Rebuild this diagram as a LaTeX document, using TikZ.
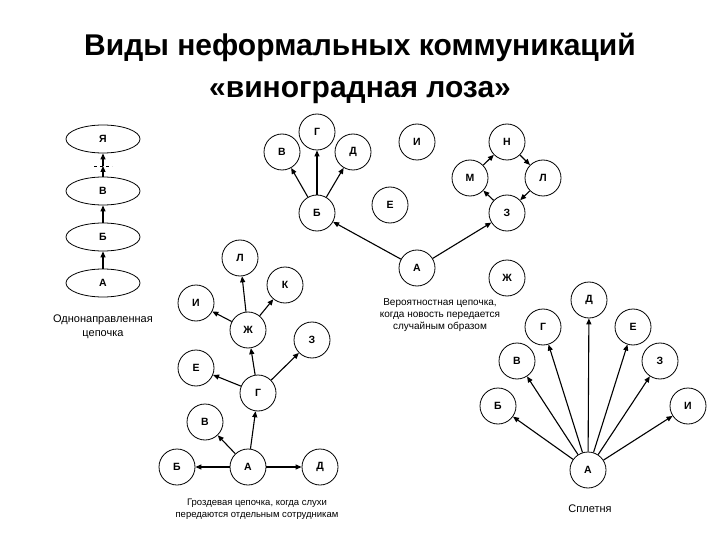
\documentclass[tikz,border=0pt]{standalone}
\usepackage{fontspec}
\setmainfont{Liberation Sans}
\usetikzlibrary{shapes.geometric,arrows.meta,calc}

\tikzset{
    krug/.style={circle,draw,line width=0.8pt,minimum size=36pt,inner sep=0pt,
        font=\fontsize{10.5}{12}\selectfont\bfseries},
    oval/.style={ellipse,draw,line width=0.8pt,minimum width=74pt,minimum height=28pt,
        inner sep=0pt,font=\fontsize{10.5}{12}\selectfont\bfseries},
    strel/.style={-{Triangle[length=6pt,width=5pt]},line width=1.1pt},
    podpis/.style={align=center,font=\fontsize{9.5}{12}\selectfont},
    zagolovok/.style={font=\fontsize{30}{34}\selectfont\bfseries}
}

\begin{document}
\begin{tikzpicture}[x=1pt,y=-1pt]

    \useasboundingbox (0,0) rectangle (720,540);

    % Заголовок
    \node[zagolovok] (zag1) at (360,47) {Виды неформальных коммуникаций};
    \node[zagolovok] (zag2) at (360,93) {«виноградная лоза»};

    % Однонаправленная цепочка
    \foreach \n/\y/\t in {ya/139/Я, v/191/В, b/237/Б, a/283/А} {
        \node[oval] (c\n) at (103,\y) {\t};
    }
    \coordinate (cmid) at (103,166);
    \draw[strel] (cv) -- (cmid);
    \draw[strel] (cmid) -- (cya);
    \draw[dashed] ($(cmid)+(-9,0)$) -- ($(cmid)+(9,0)$); % разрыв
    \draw[strel] (cb) -- (cv);
    \draw[strel] (ca) -- (cb);
    \node[podpis,font=\fontsize{11}{14}\selectfont] (cpodp) at (103,327) {Однонаправленная\\цепочка};

    % Вероятностная цепочка
    \foreach \n/\x/\y/\t in {g/317/132/Г, v/282/152/В, d/353/152/Д, i/417/142/И,
        n/507/142/Н, m/470/178/М, l/543/178/Л, e/390/205/Е, b/317/213/Б,
        z/507/213/З, a/417/268/А, zh/507/278/Ж} {
        \node[krug] (p\n) at (\x,\y) {\t};
    }
    \foreach \s/\t in {b/v, b/g, b/d, a/b, a/z, z/m, m/n, n/l, l/z} {
        \draw[strel] (p\s) -- (p\t);
    }
    \node[podpis,font=\fontsize{10}{12}\selectfont] (ppodp) at (440,315) {Вероятностная цепочка,\\когда новость передается\\случайным образом};

    % Гроздевая цепочка
    \foreach \n/\x/\y/\t in {l/240/258/Л, k/285/285/К, i/196/303/И, zh/248/330/Ж,
        z/312/340/З, e/196/368/Е, g/258/393/Г, v/205/422/В, b/177/467/Б,
        a/248/467/А, d/320/467/Д} {
        \node[krug] (g\n) at (\x,\y) {\t};
    }
    \foreach \s/\t in {zh/l, zh/i, zh/k, g/zh, g/e, g/z, a/g, a/v, a/b, a/d} {
        \draw[strel] (g\s) -- (g\t);
    }
    \node[podpis] (gpodp) at (257,509) {Гроздевая цепочка, когда слухи\\передаются отдельным сотрудникам};

    % Сплетня
    \foreach \n/\x/\y/\t in {d/589/300/Д, g/543/327/Г, e/633/327/Е, v/517/361/В,
        z/660/361/З, b/498/406/Б, i/688/406/И, a/588/470/А} {
        \node[krug] (s\n) at (\x,\y) {\t};
    }
    \foreach \t in {b, v, g, d, e, z, i} {
        \draw[strel] (sa) -- (s\t);
    }
    \node[podpis,font=\fontsize{11}{14}\selectfont] (spodp) at (590,509) {Сплетня};

\end{tikzpicture}
\end{document}
